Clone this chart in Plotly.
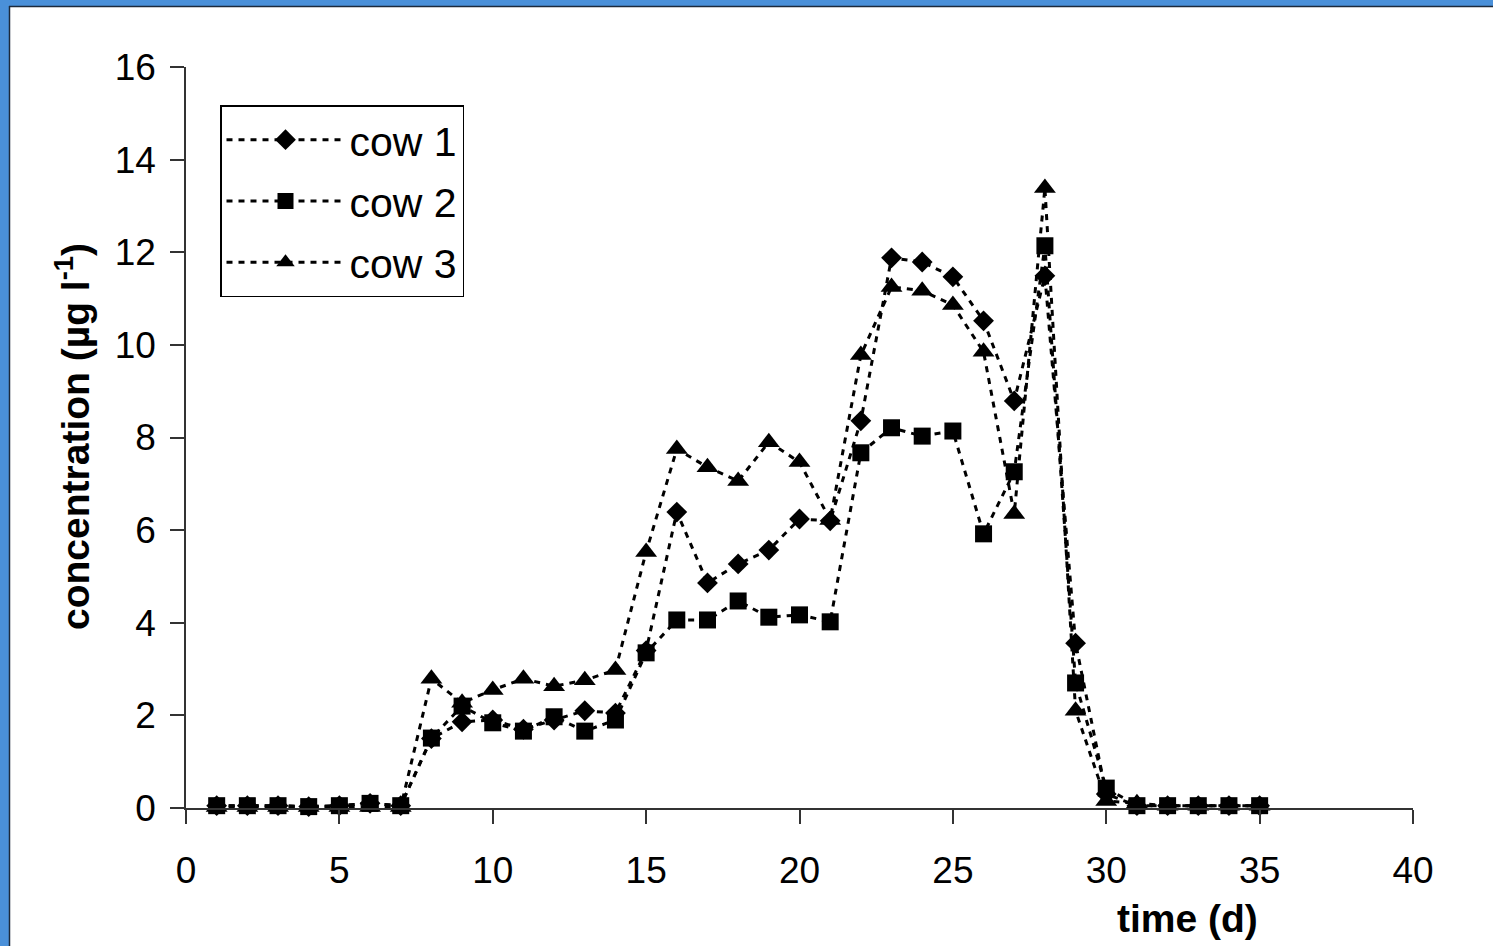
import plotly.graph_objects as go

days = list(range(1, 36))
cow1 = [0.05, 0.05, 0.05, 0.03, 0.05, 0.1, 0.05, 1.5, 1.86, 1.9, 1.7, 1.9, 2.1, 2.05,
        3.4, 6.39, 4.86, 5.27, 5.57, 6.24, 6.2, 8.36, 11.88, 11.79, 11.47, 10.52, 8.79,
        11.49, 3.56, 0.3, 0.05, 0.05, 0.05, 0.05, 0.05]
cow2 = [0.05, 0.05, 0.05, 0.03, 0.05, 0.1, 0.05, 1.51, 2.2, 1.84, 1.66, 1.97, 1.66, 1.9,
        3.35, 4.06, 4.06, 4.47, 4.12, 4.17, 4.02, 7.67, 8.21, 8.03, 8.14, 5.92, 7.26,
        12.14, 2.7, 0.43, 0.05, 0.05, 0.05, 0.05, 0.05]
cow3 = [0.02, 0.02, 0.02, 0.02, 0.02, 0.02, 0.02, 2.79, 2.27, 2.55, 2.79, 2.63, 2.76, 2.98,
        5.53, 7.75, 7.36, 7.06, 7.9, 7.47, 6.22, 9.78, 11.25, 11.17, 10.86, 9.85, 6.35,
        13.39, 2.1, 0.15, 0.1, 0.05, 0.05, 0.05, 0.05]

series = [("cow 1", cow1, "diamond", 16), ("cow 2", cow2, "square", 17), ("cow 3", cow3, "triangle-up", 19)]

FONT = "Liberation Sans, Arial, sans-serif"

fig = go.Figure()
for i, (name, vals, sym, sz) in enumerate(series):
    fig.add_trace(go.Scatter(
        x=days, y=vals, name=name, mode="lines+markers",
        line=dict(color="black", width=3, dash="6px,6px"),
        marker=dict(symbol=sym, size=sz, color="black"),
        cliponaxis=False, legendgroup=f"g{i}",
    ))

W, H = 1493, 946
L, R, T, B = 186, 80, 67, 138
pw, ph = W - L - R, H - T - B

def px(xp):
    return (xp - L) / pw

def py(yp):
    return (H - B - yp) / ph

fig.update_layout(
    width=W, height=H,
    margin=dict(l=L, r=R, t=T, b=B),
    paper_bgcolor="white", plot_bgcolor="white",
    font=dict(family=FONT, color="black", size=36),
    showlegend=True,
    legend=dict(
        x=px(220), y=py(105), xanchor="left", yanchor="top",
        bordercolor="black", borderwidth=1.5, bgcolor="white",
        font=dict(size=41, family=FONT), traceorder="grouped", tracegroupgap=5,
        itemwidth=118,
    ),
    xaxis=dict(
        range=[0, 40], dtick=5, tick0=0, showgrid=False, zeroline=False,
        showline=True, linecolor="#333", linewidth=1.5,
        ticks="outside", ticklen=14, tickwidth=1.5, tickcolor="#333",
        tickfont=dict(size=37, family=FONT), ticklabelstandoff=15,
    ),
    yaxis=dict(
        range=[0, 16], dtick=2, tick0=0, showgrid=False, zeroline=False,
        showline=True, linecolor="#333", linewidth=1.5,
        ticks="outside", ticklen=14, tickwidth=1.5, tickcolor="#333",
        tickfont=dict(size=37, family=FONT), ticklabelstandoff=7,
    ),
    annotations=[
        dict(text="<b>concentration (µg l<sup>-1</sup>)</b>", xref="paper", yref="paper",
             x=px(72), y=py(437), textangle=-90, showarrow=False,
             font=dict(size=39, family=FONT), xanchor="center", yanchor="middle"),
        dict(text="<b>time (d)</b>", xref="paper", yref="paper",
             x=px(1187), y=py(918), showarrow=False,
             font=dict(size=39, family=FONT), xanchor="center", yanchor="middle"),
    ],
    shapes=[
        dict(type="rect", xref="paper", yref="paper", x0=px(0), x1=px(9), y0=py(H), y1=py(0),
             fillcolor="#4a90d9", line=dict(width=0), layer="above"),
        dict(type="rect", xref="paper", yref="paper", x0=px(0), x1=px(W), y0=py(6), y1=py(0),
             fillcolor="#4a90d9", line=dict(width=0), layer="above"),
        dict(type="line", xref="paper", yref="paper", x0=px(9.5), x1=px(9.5), y0=py(H), y1=py(6),
             line=dict(color="#1c2a3c", width=1.5), layer="above"),
        dict(type="line", xref="paper", yref="paper", x0=px(9), x1=px(W), y0=py(6.5), y1=py(6.5),
             line=dict(color="#1c2a3c", width=1.5), layer="above"),
    ],
)

fig.write_html("out.html")
